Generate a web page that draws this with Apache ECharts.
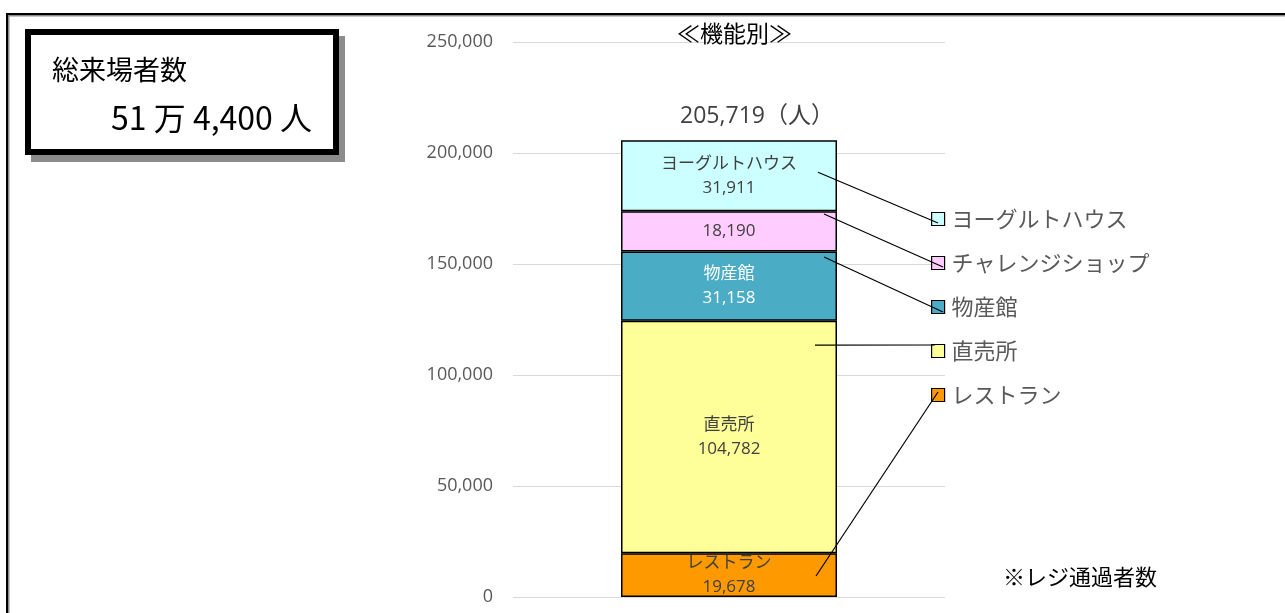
<!DOCTYPE html>
<html><head><meta charset="utf-8">
<script src="https://cdn.jsdelivr.net/npm/echarts@6/dist/echarts.min.js"></script>
<style>html,body{margin:0;padding:0;background:#fff}#c{width:1285px;height:613px}</style>
</head><body><div id="c"></div>
<script>
// ---- data ----
const categories = ['機能別'];
const seriesNames = ['レストラン', '直売所', '物産館', 'チャレンジショップ', 'ヨーグルトハウス'];
const values = [19678, 104782, 31158, 18190, 31911];
const labelNames = ['レストラン', '直売所', '物産館', '', 'ヨーグルトハウス'];
const yTicks = [0, 50000, 100000, 150000, 200000, 250000];
const totalVisitorsText = '51 万 4,400 人';
const titleText = '≪機能別≫';
const noteText = '※レジ通過者数';
// leader line anchor: fraction of height within each segment
const leaderFrac = [0.48, 0.895, 0.92, 0.93, 0.55];

// ---- styles ----
const colors = ['#FF9900', '#FFFF99', '#4BACC6', '#FFCCFF', '#CCFFFF'];
const labelColors = ['#404040', '#404040', '#FFFFFF', '#404040', '#404040'];
const FONT = '"Open Sans","Noto Sans CJK JP",sans-serif';
const JFONT = '"Noto Sans CJK JP",sans-serif';

const fmt = v => v.toLocaleString('en-US');
const total = values.reduce((a, b) => a + b, 0);

const chart = echarts.init(document.getElementById('c'), null, {renderer: 'canvas'});

const series = seriesNames.map((n, i) => ({
  name: n, type: 'bar', stack: 's', barWidth: '50%',
  data: [values[i]],
  itemStyle: {color: colors[i], borderColor: '#000', borderWidth: 1.5},
  label: {
    show: true, position: 'inside',
    formatter: labelNames[i] ? labelNames[i] + '\n' + fmt(values[i]) : fmt(values[i]),
    color: labelColors[i], fontSize: 17, lineHeight: 24, fontFamily: FONT
  },
  emphasis: {disabled: true}
}));
series.push({
  name: '合計', type: 'bar', stack: 's', barWidth: '50%', data: [0],
  itemStyle: {color: 'rgba(0,0,0,0)', borderWidth: 0},
  label: {show: true, position: 'top', distance: 12, offset: [28, 0],
    formatter: fmt(total) + '（人）', color: '#404040', fontSize: 23, fontFamily: FONT},
  emphasis: {disabled: true}
});

const legendTop = 207, legendStep = 44, legendLeft = 931;

chart.setOption({
  animation: false,
  title: {text: titleText, left: 677, top: 22, padding: 0,
    textStyle: {fontSize: 23, fontWeight: 'normal', color: '#000', fontFamily: JFONT}},
  grid: {left: 513, right: 340, top: 42, bottom: 16, containLabel: false},
  xAxis: {type: 'category', data: categories, axisLine: {show: false}, axisTick: {show: false}, axisLabel: {show: false}},
  yAxis: {type: 'value', min: yTicks[0], max: yTicks[yTicks.length - 1], interval: yTicks[1] - yTicks[0],
    axisLine: {show: false}, axisTick: {show: false},
    axisLabel: {formatter: v => fmt(v), color: '#595959', fontSize: 18, margin: 20, fontFamily: FONT},
    splitLine: {lineStyle: {color: '#D9D9D9', width: 1}}},
  legend: {
    orient: 'vertical', left: legendLeft, top: legendTop, padding: 0,
    data: seriesNames.slice().reverse(),
    icon: 'rect', itemWidth: 13, itemHeight: 13, itemGap: 20,
    itemStyle: {borderColor: '#000', borderWidth: 1.2},
    textStyle: {fontSize: 22, lineHeight: 24, color: '#595959', fontFamily: JFONT, padding: [0, 0, 0, 2]},
    selectedMode: false
  },
  series: series
});

// leader lines from bar segments to legend icons
const cx = chart.convertToPixel({xAxisIndex: 0}, categories[0]);
const startDx = [87, 86, 95, 95, 89];
const endDx = [7, 4, 12, 12, 7];
const endDy = [-3, -6, 5, 4, 4];
let cum = 0;
const lines = [];
values.forEach((v, i) => {
  const yv = cum + v * leaderFrac[i];
  cum += v;
  const sy = chart.convertToPixel({yAxisIndex: 0}, yv);
  const legendIdx = seriesNames.length - 1 - i;
  const iconCy = legendTop + 12 + legendIdx * legendStep;
  lines.push({type: 'line', z: 100, silent: true,
    shape: {x1: cx + startDx[i], y1: sy, x2: legendLeft + endDx[i], y2: iconCy + endDy[i]},
    style: {stroke: '#000', lineWidth: 1.2}});
});

chart.setOption({
  graphic: [
    // outer frame
    {type: 'rect', z: 1, silent: true, shape: {x: 7, y: 14, width: 1400, height: 800},
      style: {fill: 'none', stroke: '#000', lineWidth: 2, shadowColor: 'rgba(0,0,0,0.45)', shadowOffsetX: 1.5, shadowOffsetY: 1.5, shadowBlur: 0}},
    // summary box shadow
    {type: 'rect', z: 1, silent: true, shape: {x: 31, y: 36, width: 314, height: 126}, style: {fill: '#8C8C8C'}},
    // summary box
    {type: 'rect', z: 2, silent: true, shape: {x: 28, y: 32, width: 308, height: 120},
      style: {fill: '#fff', stroke: '#000', lineWidth: 6}},
    {type: 'text', z: 3, silent: true, x: 52, y: 70,
      style: {text: '総来場者数', fontSize: 27, fontFamily: JFONT, fill: '#000', textAlign: 'left', textVerticalAlign: 'middle'}},
    {type: 'text', z: 3, silent: true, x: 312, y: 118,
      style: {text: totalVisitorsText, fontSize: 32, fontFamily: JFONT, fill: '#000', textAlign: 'right', textVerticalAlign: 'middle'}},
    {type: 'text', z: 3, silent: true, x: 1003, y: 577,
      style: {text: noteText, fontSize: 22, fontFamily: JFONT, fill: '#000', textAlign: 'left', textVerticalAlign: 'middle'}}
  ].concat(lines)
});
</script></body></html>
